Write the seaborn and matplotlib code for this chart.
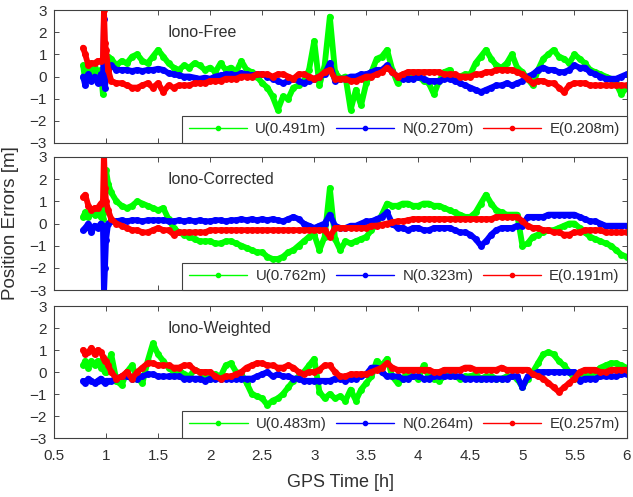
import numpy as np
import pandas as pd
import seaborn as sns
import matplotlib
matplotlib.use("Agg")
from matplotlib import pyplot as plt
from matplotlib.lines import Line2D

# sample times [h]: dense start (spike near 0.98 h), then every 0.05 h
t_head = [0.78, 0.80, 0.83, 0.86, 0.89, 0.92, 0.95, 0.97, 0.98, 0.99, 1.00, 1.02]
t_body = np.round(np.arange(1.05, 6.001, 0.05), 2)
gps_time = np.concatenate([t_head, t_body])

# ---- Iono-Free ----
U_free = [0.5, -0.2, 0.6, 0.2, 0.4, 0.1, 0.3, -0.8, 0.5, 0.9, 0.6, 0.9,
          0.8, 0.5, 0.7, 0.6, 0.9, 1.0, 0.7, 0.6, 0.9, 1.2,
          0.9, 0.6, 0.4, 0.3, 0.5, 0.4, 0.6, 0.5, 0.3, 0.4,
          0.2, 0.6, 0.3, 0.4, 0.2, 0.7, 0.3, 0.2, 0.0, -0.3,
          -0.5, -0.9, -1.5, -0.9, -1.0, -0.5, -0.4, -0.2, 0.3, 1.6,
          -0.4, 0.5, 2.7, 0.2, -0.1, 0.0, -1.5, -0.6, -1.3, -0.3,
          0.2, 0.8, 0.9, 1.2, 0.3, -0.3, 0.0, -0.1, 0.1, 0.0,
          -0.2, -0.3, -0.8, -0.2, 0.2, 0.3, 0.0, 0.0, 0.1, 0.1,
          0.6, 0.9, 1.2, 0.8, 0.5, 0.4, 0.6, 1.0, 0.4, 0.2,
          -0.1, -0.4, 0.3, 0.8, 1.0, 1.2, 0.9, 0.8, 0.6, 1.0,
          0.8, 0.6, 0.3, 0.2, 0.1, 0.0, -0.1, -0.3, -0.8, -0.5]
N_free = [0.0, -0.4, 0.1, -0.2, 0.0, -0.3, 0.1, -0.3, 2.6, -0.5, 0.0, 0.3,
          0.5, 0.3, 0.3, 0.3, 0.25, 0.3, 0.25, 0.3, 0.3, 0.35,
          0.3, 0.15, 0.1, 0.05, 0.0, 0.0, -0.05, -0.1, -0.05, -0.1,
          0.0, 0.05, 0.1, 0.1, 0.05, 0.15, 0.1, 0.05, 0.1, 0.1,
          0.0, -0.1, -0.2, -0.3, -0.2, -0.1, -0.2, -0.3, -0.2, -0.1,
          0.0, 0.1, 0.6, -0.2, -0.1, -0.1, 0.0, 0.0, 0.1, 0.1,
          0.2, 0.3, 0.3, 0.5, 0.2, 0.0, -0.1, -0.1, -0.1, 0.0,
          -0.1, -0.2, -0.2, -0.2, -0.1, -0.1, -0.2, -0.3, -0.4, -0.5,
          -0.6, -0.7, -0.6, -0.5, -0.4, -0.4, -0.3, -0.4, -0.3, -0.2,
          0.0, 0.1, 0.3, 0.4, 0.3, 0.3, 0.2, 0.2, 0.3, 0.5,
          0.4, 0.4, 0.2, 0.1, 0.0, -0.1, -0.1, -0.1, 0.0, 0.1]
E_free = [1.3, 1.0, 0.5, 0.6, 0.6, 0.7, 0.7, 0.8, 3.0, 1.5, 1.2, 0.3,
          -0.2, -0.3, -0.3, -0.4, -0.5, -0.5, -0.4, -0.3, -0.5, -0.3,
          -0.7, -0.4, -0.5, -0.4, -0.4, -0.4, -0.3, -0.3, -0.3, -0.2,
          -0.2, -0.2, -0.1, -0.1, -0.1, 0.0, 0.0, 0.0, 0.1, 0.1,
          0.1, 0.0, 0.1, 0.1, 0.0, -0.1, 0.1, 0.1, 0.0, -0.1,
          0.0, 0.2, 0.3, -0.1, -0.1, -0.1, -0.2, -0.2, -0.1, 0.0,
          0.0, 0.1, 0.2, 0.4, 0.2, 0.0, 0.1, 0.2, 0.2, 0.2,
          0.2, 0.2, 0.2, 0.2, 0.1, 0.1, 0.1, 0.0, 0.0, 0.0,
          0.1, 0.1, 0.2, 0.2, 0.3, 0.3, 0.3, 0.3, 0.2, 0.1,
          -0.1, -0.3, -0.2, -0.2, -0.3, -0.3, -0.5, -0.7, -0.4, -0.3,
          -0.3, -0.3, -0.4, -0.4, -0.4, -0.4, -0.4, -0.4, -0.4, -0.4]

# ---- Iono-Corrected ----
U_corr = [0.3, 0.5, 0.3, 0.5, 0.4, 0.5, 0.3, 0.2, 0.5, 1.5, 2.4, 1.8,
          1.4, 1.0, 0.8, 0.7, 0.8, 1.0, 0.9, 0.8, 0.7, 0.6,
          0.7, 0.2, -0.2, -0.4, -0.5, -0.6, -0.7, -0.8, -0.8, -0.8,
          -0.9, -0.9, -0.8, -0.8, -0.9, -1.0, -1.1, -1.2, -1.3, -1.3,
          -1.5, -1.6, -1.6, -1.5, -1.3, -1.2, -1.0, -0.8, -0.6, -0.5,
          -1.2, -0.6, 1.6, -0.7, -1.2, -0.8, -0.9, -0.8, -0.7, -0.6,
          -0.3, 0.0, 0.4, 0.9, 0.8, 0.8, 0.9, 0.9, 0.8, 0.8,
          0.9, 0.9, 0.8, 0.8, 0.7, 0.6, 0.5, 0.4, 0.3, 0.3,
          0.5, 0.9, 1.3, 0.9, 0.6, 0.5, 0.4, 0.4, 0.4, -1.0,
          -0.9, -0.6, -0.5, -0.4, -0.3, -0.3, -0.2, -0.1, 0.0, 0.0,
          -0.2, -0.4, -0.6, -0.7, -0.8, -0.9, -1.0, -1.2, -1.4, -1.5]
N_corr = [-0.3, -0.2, 0.0, -0.4, -0.1, -0.2, 0.0, -0.1, -3.2, -2.0, -0.75, 0.0,
          0.1, 0.1, 0.15, 0.1, 0.15, 0.15, 0.1, 0.15, 0.15, 0.15,
          0.15, 0.1, 0.1, 0.15, 0.1, 0.15, 0.1, 0.15, 0.1, 0.1,
          0.15, 0.15, 0.1, 0.15, 0.15, 0.2, 0.15, 0.2, 0.15, 0.2,
          0.15, 0.2, 0.15, 0.1, 0.2, 0.3, 0.2, 0.0, -0.1, -0.2,
          -0.1, 0.0, 0.4, -0.1, -0.2, -0.2, -0.1, -0.1, 0.0, 0.1,
          0.1, 0.2, 0.3, 0.5, 0.0, -0.2, -0.2, -0.3, -0.2, -0.2,
          -0.3, -0.3, -0.2, -0.2, -0.2, -0.2, -0.3, -0.4, -0.4, -0.5,
          -0.7, -1.0, -0.8, -0.5, -0.3, -0.2, -0.2, -0.2, -0.1, -0.1,
          0.3, 0.3, 0.3, 0.3, 0.4, 0.4, 0.4, 0.4, 0.4, 0.4,
          0.3, 0.2, 0.1, 0.1, 0.0, -0.1, -0.1, -0.1, -0.1, -0.1]
E_corr = [1.2, 1.3, 0.8, 0.6, 0.7, 0.7, 0.9, 1.0, 3.2, 1.6, 1.0, 0.6,
          0.2, 0.0, -0.1, -0.2, -0.3, -0.3, -0.4, -0.4, -0.3, -0.2,
          -0.3, -0.3, -0.5, -0.4, -0.4, -0.4, -0.4, -0.4, -0.4, -0.3,
          -0.3, -0.3, -0.3, -0.3, -0.3, -0.3, -0.3, -0.3, -0.3, -0.3,
          -0.3, -0.3, -0.3, -0.3, -0.3, -0.3, -0.3, -0.3, -0.3, -0.3,
          -0.3, -0.3, -0.6, -0.2, -0.2, -0.2, -0.2, -0.2, -0.2, -0.2,
          -0.1, -0.1, -0.05, 0.0, 0.05, 0.1, 0.1, 0.15, 0.2, 0.2,
          0.2, 0.2, 0.2, 0.2, 0.2, 0.2, 0.2, 0.2, 0.2, 0.2,
          0.2, 0.2, 0.2, 0.2, 0.3, 0.3, 0.3, 0.3, 0.3, 0.1,
          -0.1, -0.2, -0.2, -0.3, -0.3, -0.4, -0.4, -0.5, -0.5, -0.4,
          -0.4, -0.3, -0.3, -0.3, -0.3, -0.4, -0.4, -0.4, -0.4, -0.4]

# ---- Iono-Weighted ----
U_wgt = [0.3, 0.5, 0.2, 0.5, 0.3, 0.5, 0.2, 0.4, 0.1, 0.0, 0.0, 0.4,
         0.8, -0.4, -0.6, 0.0, 0.3, -0.3, -0.5, 0.5, 1.3, 0.8,
         0.5, 0.2, 0.0, 0.1, -0.1, -0.2, 0.1, 0.0, -0.2, -0.3,
         -0.1, -0.2, 0.3, 0.4, 0.0, -0.1, -0.5, -1.0, -1.1, -1.2,
         -1.5, -1.3, -1.2, -1.0, -0.7, -0.4, -0.2, 0.0, 0.3, 0.6,
         -0.9, -1.2, -1.0, -1.2, -1.1, -1.3, -0.8, -1.3, -0.8, -0.5,
         -0.2, 0.5, 0.3, 0.6, -0.2, -0.5, -0.3, 0.0, -0.2, -0.3,
         0.3, -0.2, -0.3, -0.4, -0.2, -0.1, -0.2, -0.3, -0.2, -0.2,
         -0.1, -0.3, -0.2, -0.2, -0.3, -0.3, -0.2, -0.2, -0.3, -0.7,
         -0.3, 0.0, 0.4, 0.8, 0.9, 0.8, 0.5, 0.3, 0.0, -0.3,
         -0.3, -0.2, -0.1, 0.0, 0.2, 0.3, 0.4, 0.4, 0.3, 0.2]
N_wgt = [-0.4, -0.5, -0.3, -0.4, -0.5, -0.4, -0.3, -0.4, -0.4, -0.5, -0.4, -0.4,
         -0.4, -0.3, -0.2, -0.2, -0.3, -0.3, -0.2, -0.1, -0.1, -0.2,
         -0.2, -0.2, -0.2, -0.2, -0.3, -0.3, -0.3, -0.3, -0.4, -0.3,
         -0.3, -0.3, -0.3, -0.3, -0.3, -0.3, -0.3, -0.3, -0.2, -0.1,
         0.0, -0.2, -0.1, -0.2, -0.2, -0.3, -0.3, -0.4, -0.4, -0.4,
         -0.4, -0.4, -0.4, -0.3, -0.3, -0.4, -0.3, -0.3, -0.2, -0.1,
         0.2, 0.2, 0.0, -0.2, -0.2, -0.2, -0.3, -0.3, -0.2, -0.2,
         -0.3, -0.3, -0.2, -0.2, -0.2, -0.2, -0.2, -0.2, -0.3, -0.3,
         -0.3, -0.3, -0.3, -0.3, -0.3, -0.3, -0.3, -0.2, -0.2, -0.7,
         -0.2, -0.1, 0.0, 0.0, 0.0, 0.0, 0.0, 0.0, 0.0, 0.0,
         -0.4, -0.3, -0.3, -0.3, -0.2, -0.2, -0.2, -0.2, -0.1, -0.1]
E_wgt = [1.0, 0.8, 0.9, 1.1, 0.8, 1.0, 0.9, 0.7, 0.6, 0.5, 0.5, 0.3,
         0.0, -0.3, -0.2, 0.0, -0.3, 0.0, 0.2, 0.4, 0.4, 0.3,
         0.3, 0.3, 0.2, 0.2, 0.3, 0.3, 0.1, 0.0, 0.0, 0.0,
         -0.2, -0.3, -0.2, -0.2, -0.1, 0.0, 0.2, 0.3, 0.4, 0.4,
         0.3, 0.3, 0.2, 0.2, 0.3, 0.2, 0.0, -0.1, 0.0, 0.0,
         0.1, 0.3, 0.3, 0.0, -0.2, -0.2, -0.1, -0.1, -0.1, -0.1,
         0.0, 0.1, 0.2, 0.4, 0.2, 0.1, 0.1, 0.1, 0.1, 0.1,
         0.1, 0.1, 0.0, 0.0, 0.1, 0.1, 0.1, 0.1, 0.2, 0.2,
         0.1, 0.1, 0.1, 0.1, 0.1, 0.2, 0.1, 0.1, 0.1, 0.1,
         0.1, -0.1, -0.2, -0.3, -0.5, -0.7, -0.9, -0.7, -0.5, -0.3,
         0.0, 0.1, 0.1, 0.1, 0.0, 0.0, 0.1, 0.1, 0.1, 0.1]

panel_names = ["Iono-Free", "Iono-Corrected", "Iono-Weighted"]
panel_series = [(U_free, N_free, E_free), (U_corr, N_corr, E_corr), (U_wgt, N_wgt, E_wgt)]
rms_labels = [["U(0.491m)", "N(0.270m)", "E(0.208m)"],
              ["U(0.762m)", "N(0.323m)", "E(0.191m)"],
              ["U(0.483m)", "N(0.264m)", "E(0.257m)"]]
colors = ["#00ff00", "#0000ff", "#ff0000"]

sns.set_style("ticks")
plt.rcParams["font.family"] = ["Liberation Sans", "DejaVu Sans"]
plt.rcParams["xtick.direction"] = "in"
plt.rcParams["ytick.direction"] = "in"
txt = "#303030"

fig = plt.figure(figsize=(6.33, 4.97), dpi=100)
W, H = 633, 497
boxes = [(10, 143), (157, 290), (306, 438)]
left, right = 54, 626.5

axes = []
for k, (top, bot) in enumerate(boxes):
    ax = fig.add_axes([left / W, (H - bot) / H, (right - left) / W, (bot - top) / H])
    axes.append(ax)
    for j, vals in enumerate(panel_series[k]):
        assert len(vals) == len(gps_time)
        df = pd.DataFrame({"t": gps_time, "v": vals})
        sns.lineplot(data=df, x="t", y="v", ax=ax, color=colors[j], lw=4.2,
                     marker="o", markersize=5, markeredgewidth=0,
                     sort=False, legend=False)
    ax.set_xlim(0.5, 6)
    ax.set_ylim(-3, 3)
    ax.set_yticks(range(-3, 4))
    ax.set_xticks(np.arange(0.5, 6.01, 0.5))
    ax.set_xticklabels(["0.5", "1", "1.5", "2", "2.5", "3", "3.5", "4", "4.5", "5", "5.5", "6"])
    ax.tick_params(top=True, right=True, labelsize=11, colors=txt, length=3.5, width=0.6)
    ax.tick_params(axis="x", pad=8)
    ax.tick_params(axis="y", pad=5)
    for s in ax.spines.values():
        s.set_color("#404040")
        s.set_linewidth(0.8)
    ax.set_xlabel("")
    ax.set_ylabel("")
    ax.text(1.59, 2.0, panel_names[k], fontsize=11.5, color=txt, va="center", ha="left")
    if k < 2:
        ax.tick_params(labelbottom=False)
    handles = [Line2D([0], [0], color=c, lw=1, marker="o", markersize=3) for c in colors]
    leg = ax.legend(handles, rms_labels[k], loc="lower right", bbox_to_anchor=(1, 0),
                    borderaxespad=0, ncol=3, fontsize=10.8, frameon=True, fancybox=False,
                    handlelength=3.9, handletextpad=0.55, columnspacing=0.6,
                    borderpad=0.45, numpoints=1)
    leg.get_frame().set_edgecolor("#404040")
    leg.get_frame().set_linewidth(0.8)
    leg.get_frame().set_alpha(1)
    for tx in leg.get_texts():
        tx.set_color(txt)

axes[1].set_ylabel("Position Errors [m]", fontsize=13.5, color=txt, labelpad=8)
axes[2].set_xlabel("GPS Time [h]", fontsize=13, color=txt, labelpad=8)

fig.savefig("out.png", dpi=100)
